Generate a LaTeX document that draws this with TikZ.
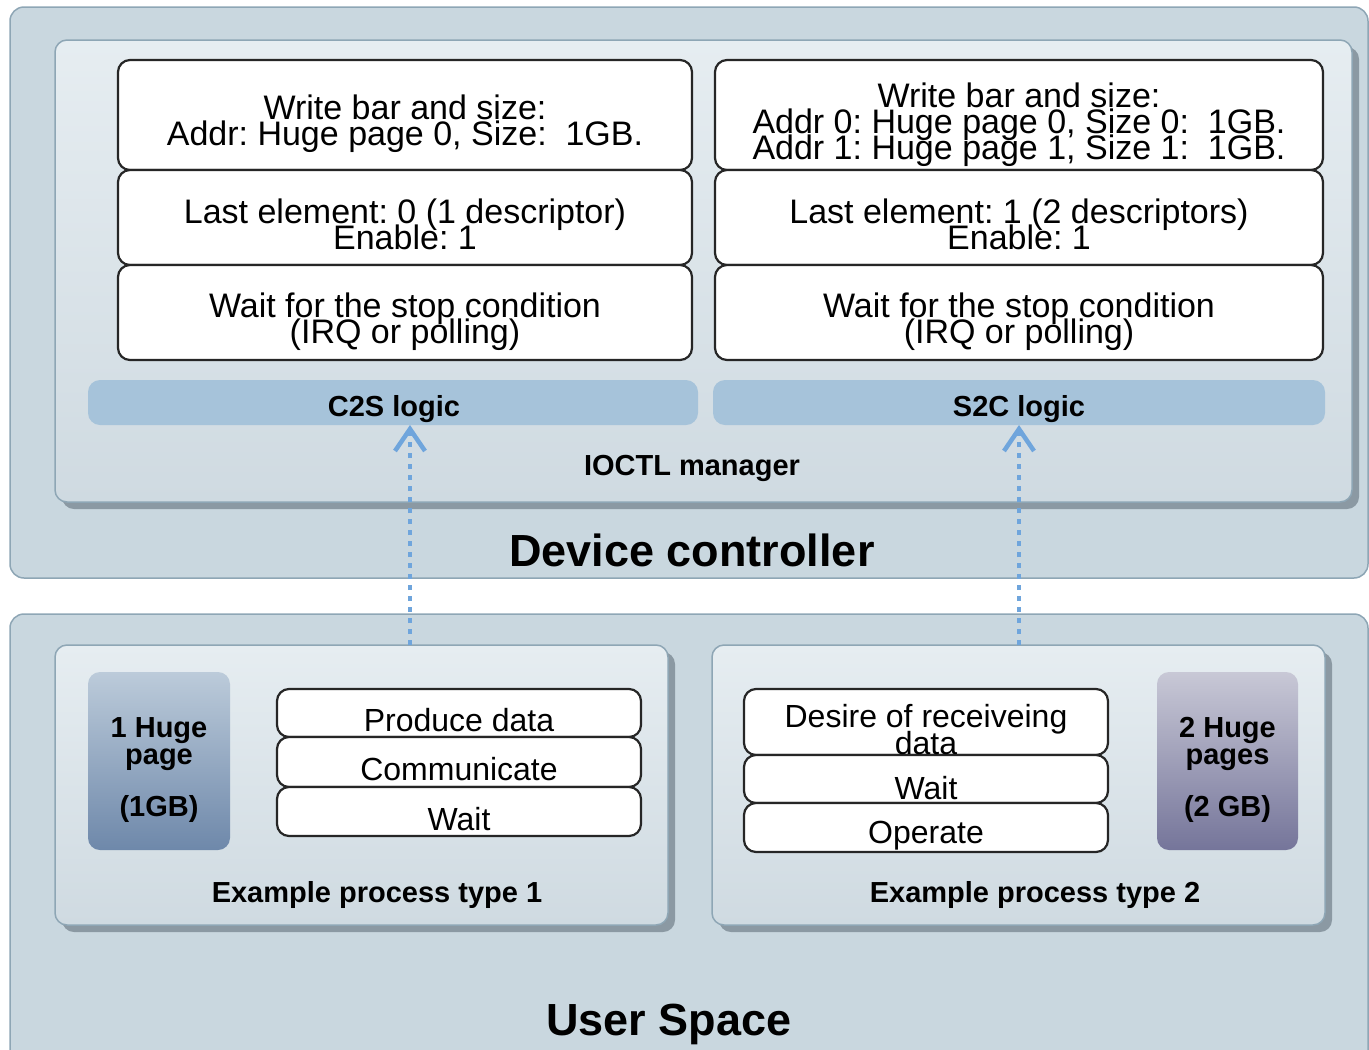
\documentclass[tikz,border=0pt]{standalone}
\usepackage{fontspec}
\setmainfont{Liberation Sans}
\usetikzlibrary{arrows.meta,shadows}
\frenchspacing

\definecolor{outerfill}{HTML}{C9D7DF}
\definecolor{outerline}{HTML}{8EA6B5}
\definecolor{innertop}{HTML}{E6EDF1}
\definecolor{innerbot}{HTML}{CFDAE1}
\definecolor{shadowc}{HTML}{8B99A3}
\definecolor{logicfill}{HTML}{A6C3DA}
\definecolor{flowblue}{HTML}{6FA5DC}
\definecolor{hponetop}{HTML}{BCCBDA}
\definecolor{hponebot}{HTML}{6E88AA}
\definecolor{hptwotop}{HTML}{C8C8D6}
\definecolor{hptwobot}{HTML}{75759A}

% tight line spacing: lines may overlap slightly
\newcommand\tightlines{\lineskiplimit=-100pt\lineskip=0pt}

\begin{document}
\begin{tikzpicture}[x=1pt,y=-1pt,
  every node/.style={inner sep=0pt, outer sep=0pt},
  outerbox/.style={draw=outerline, line width=1.5pt, fill=outerfill, rounded corners=14pt},
  panel/.style={draw=outerline, line width=1.5pt, top color=innertop, bottom color=innerbot,
    rounded corners=12pt,
    drop shadow={shadow xshift=7pt, shadow yshift=-7pt, fill=shadowc, opacity=1}},
  stepbox/.style={draw=black!85, line width=2.2pt, fill=white, rounded corners=12pt},
  logicbar/.style={fill=logicfill, rounded corners=12pt},
  hpage/.style={rounded corners=12pt},
  boxtxt/.style={font=\fontsize{34}{26}\selectfont\tightlines, align=center, text=black},
  proctxt/.style={font=\fontsize{32}{27}\selectfont\tightlines, align=center, text=black},
  captxt/.style={font=\bfseries\fontsize{29}{27}\selectfont\tightlines, align=center, text=black},
  bigtxt/.style={font=\bfseries\fontsize{45}{45}\selectfont, text=black},
  flow/.style={draw=flowblue, line width=4.5pt, dash pattern=on 5pt off 6pt,
    -{Straight Barb[length=22pt,width=30pt,line width=4.5pt]}}
]
\useasboundingbox (0,0) rectangle (1369,1050);
\clip (0,0) rectangle (1369,1050);

% ---------- outer areas ----------
\node[outerbox, minimum width=1358pt, minimum height=571pt] (dc) at (689,292.5) {};
\node[outerbox, minimum width=1358pt, minimum height=460pt] (us) at (689,844) {};

% ---------- IOCTL manager ----------
\node[panel, minimum width=1297pt, minimum height=462pt] (ioctl) at (703.5,271) {};

% C2S column
\node[stepbox, minimum width=574pt, minimum height=110pt] (ca) at (405,115) {};
\node[stepbox, minimum width=574pt, minimum height=95pt] (cb) at (405,217.5) {};
\node[stepbox, minimum width=574pt, minimum height=95pt] (cc) at (405,312.5) {};
\node[boxtxt] (cat) at ([yshift=-9pt]ca.center) {Write bar and size:\\Addr: Huge page 0, Size:\ \ 1GB.};
\node[boxtxt] (cbt) at ([yshift=-7pt]cb.center) {Last element: 0 (1 descriptor)\\Enable: 1};
\node[boxtxt] (cct) at ([yshift=-9pt]cc.center) {Wait for the stop condition\\(IRQ or polling)};

% S2C column
\node[stepbox, minimum width=608pt, minimum height=110pt] (sa) at (1019,115) {};
\node[stepbox, minimum width=608pt, minimum height=95pt] (sb) at (1019,217.5) {};
\node[stepbox, minimum width=608pt, minimum height=95pt] (sc) at (1019,312.5) {};
\node[boxtxt] (sat) at ([yshift=-10pt]sa.center) {Write bar and size:\\Addr 0: Huge page 0, Size 0:\ \ 1GB.\\Addr 1: Huge page 1, Size 1:\ \ 1GB.};
\node[boxtxt] (sbt) at ([yshift=-7pt]sb.center) {Last element: 1 (2 descriptors)\\Enable: 1};
\node[boxtxt] (sct) at ([yshift=-9pt]sc.center) {Wait for the stop condition\\(IRQ or polling)};

% logic bars
\node[logicbar, minimum width=610pt, minimum height=45pt] (c2s) at (393,402.5) {};
\node[logicbar, minimum width=612pt, minimum height=45pt] (s2c) at (1019,402.5) {};
\node[captxt] (c2st) at (394,409) {C2S logic};
\node[captxt] (s2ct) at (1019,409) {S2C logic};

\node[captxt] (ioctlt) at (692,468) {IOCTL manager};
\node[bigtxt] (dct) at (692,550) {Device controller};

% ---------- user space ----------
\node[panel, minimum width=613pt, minimum height=280pt] (p1) at (361.5,785) {};
\node[panel, minimum width=613pt, minimum height=280pt] (p2) at (1018.5,785) {};

% process type 1
\node[hpage, top color=hponetop, bottom color=hponebot, minimum width=142pt, minimum height=178pt] (hp1) at (159,761) {};
\node[captxt] (hp1t) at (159,770) {1 Huge\\page\\[25pt](1GB)};
\node[stepbox, minimum width=364pt, minimum height=48pt] (pa) at (459,713) {};
\node[stepbox, minimum width=364pt, minimum height=50pt] (pb) at (459,762) {};
\node[stepbox, minimum width=364pt, minimum height=49pt] (pc) at (459,811.5) {};
\node[proctxt] (pat) at ([yshift=-7pt]pa.center) {Produce data};
\node[proctxt] (pbt) at ([yshift=-7pt]pb.center) {Communicate};
\node[proctxt] (pct) at ([yshift=-8pt]pc.center) {Wait};
\node[captxt] (p1t) at (377,895) {Example process type 1};

% process type 2
\node[hpage, top color=hptwotop, bottom color=hptwobot, minimum width=141pt, minimum height=178pt] (hp2) at (1227.5,761) {};
\node[captxt] (hp2t) at (1227.5,770) {2 Huge\\pages\\[25pt](2 GB)};
\node[stepbox, minimum width=364pt, minimum height=66pt] (qa) at (926,722) {};
\node[stepbox, minimum width=364pt, minimum height=48pt] (qb) at (926,779) {};
\node[stepbox, minimum width=364pt, minimum height=49pt] (qc) at (926,827.5) {};
\node[proctxt] (qat) at ([yshift=-8pt]qa.center) {Desire of receiveing\\data};
\node[proctxt] (qbt) at ([yshift=-9pt]qb.center) {Wait};
\node[proctxt] (qct) at ([yshift=-8pt]qc.center) {Operate};
\node[captxt] (p2t) at (1035,895) {Example process type 2};

\node[bigtxt] (ust) at (669,1024) {User Space};

% ---------- flows from user space up to the logic blocks ----------
\coordinate (f1) at (410,645);
\draw[flow] (f1) -- (f1 |- c2s.south);
\draw[flow] (s2c.south |- p2.north) -- (s2c.south);
\end{tikzpicture}
\end{document}
